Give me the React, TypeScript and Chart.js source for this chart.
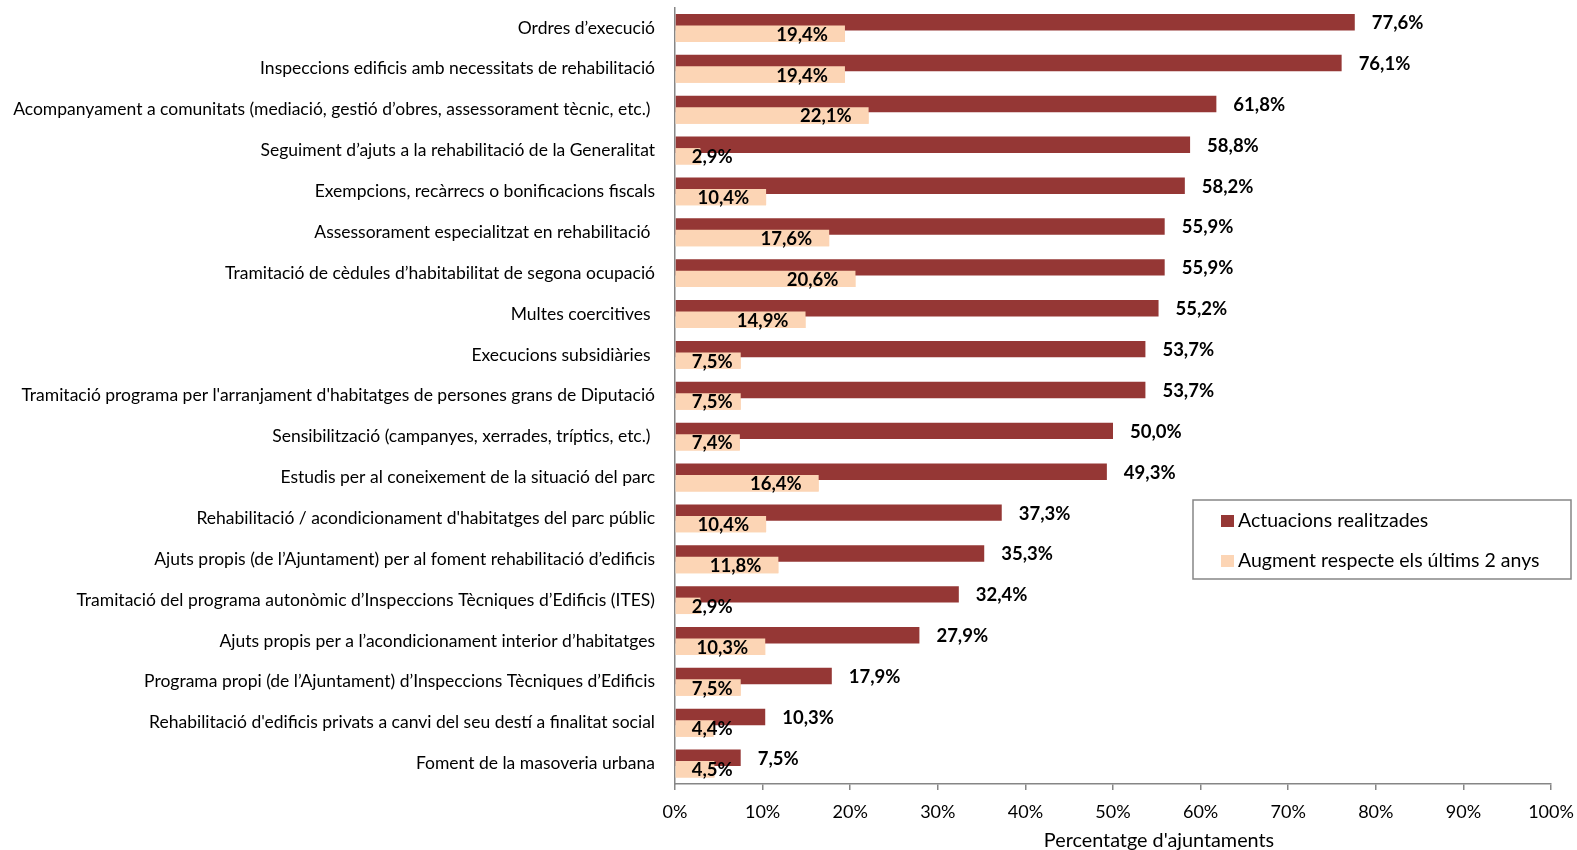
import React, { useEffect, useRef } from "react";
import { Chart, registerables } from "chart.js";

Chart.register(...registerables);

const categories = [
  "Ordres d’execució",
  "Inspeccions edificis amb necessitats de rehabilitació",
  "Acompanyament a comunitats (mediació, gestió d’obres, assessorament tècnic, etc.) ",
  "Seguiment d’ajuts a la rehabilitació de la Generalitat",
  "Exempcions, recàrrecs o bonificacions fiscals",
  "Assessorament especialitzat en rehabilitació ",
  "Tramitació de cèdules d’habitabilitat de segona ocupació",
  "Multes coercitives ",
  "Execucions subsidiàries ",
  "Tramitació programa per l'arranjament d'habitatges de persones grans de Diputació",
  "Sensibilització (campanyes, xerrades, tríptics, etc.) ",
  "Estudis per al coneixement de la situació del parc",
  "Rehabilitació / acondicionament d'habitatges del parc públic",
  "Ajuts propis (de l’Ajuntament) per al foment rehabilitació d’edificis",
  "Tramitació del programa autonòmic d’Inspeccions Tècniques d’Edificis (ITES)",
  "Ajuts propis per a l’acondicionament interior d’habitatges",
  "Programa propi (de l’Ajuntament) d’Inspeccions Tècniques d’Edificis",
  "Rehabilitació d'edificis privats a canvi del seu destí a finalitat social",
  "Foment de la masoveria urbana",
];

const actuacions = [77.6, 76.1, 61.8, 58.8, 58.2, 55.9, 55.9, 55.2, 53.7, 53.7, 50.0, 49.3, 37.3, 35.3, 32.4, 27.9, 17.9, 10.3, 7.5];
const augment = [19.4, 19.4, 22.1, 2.9, 10.4, 17.6, 20.6, 14.9, 7.5, 7.5, 7.4, 16.4, 10.4, 11.8, 2.9, 10.3, 7.5, 4.4, 4.5];

const seriesNames = ["Actuacions realitzades", "Augment respecte els últims 2 anys"];
const axisTitle = "Percentatge d'ajuntaments";

const DARK = "#953735";
const LIGHT = "#FCD5B5";
const AXIS = "#868686";
const FONT = "Lato, 'Open Sans', sans-serif";

const fmt = (v: number) => v.toFixed(1).replace(".", ",") + "%";

export default function App() {
  const ref = useRef<HTMLCanvasElement>(null);

  useEffect(() => {
    document.body.style.margin = "0";
    const canvas = ref.current;
    if (!canvas) return;

    const overlay = {
      id: "overlay",
      afterDatasetsDraw(chart: any) {
        const ctx = chart.ctx;
        const m1 = chart.getDatasetMeta(1);
        ctx.save();
        m1.controller.draw();
        ctx.restore();

        ctx.save();
        ctx.fillStyle = "#000";
        ctx.font = `bold 18.5px ${FONT}`;
        ctx.textBaseline = "middle";
        const m0 = chart.getDatasetMeta(0);
        m0.data.forEach((el: any, i: number) => {
          ctx.textAlign = "left";
          ctx.fillText(fmt(actuacions[i]), el.x + 17, el.y + 1);
        });
        m1.data.forEach((el: any, i: number) => {
          const t = fmt(augment[i]);
          const w = ctx.measureText(t).width;
          const right = Math.max(el.x - 17, el.base + 16 + w);
          ctx.textAlign = "right";
          ctx.fillText(t, right, el.y + 1);
        });
        ctx.restore();
      },
      afterDraw(chart: any) {
        const ctx = chart.ctx;
        ctx.save();
        ctx.strokeStyle = AXIS;
        ctx.lineWidth = 1.5;
        ctx.fillStyle = "#fff";
        ctx.fillRect(1193, 500, 378, 79);
        ctx.strokeRect(1193, 500, 378, 79);
        ctx.font = `19.5px ${FONT}`;
        ctx.textBaseline = "middle";
        ctx.textAlign = "left";
        const colors = [DARK, LIGHT];
        seriesNames.forEach((n, i) => {
          const cy = 521 + i * 40;
          ctx.fillStyle = colors[i];
          ctx.fillRect(1221, cy - 6, 13, 12);
          ctx.fillStyle = "#000";
          ctx.fillText(n, 1238, cy);
        });
        ctx.font = `19.8px ${FONT}`;
        ctx.textAlign = "center";
        ctx.textBaseline = "alphabetic";
        ctx.fillText(axisTitle, 1159, 847);
        ctx.restore();
      },
    };

    const chart = new Chart(canvas, {
      type: "bar",
      data: {
        labels: categories,
        datasets: [
          {
            label: seriesNames[0],
            data: actuacions,
            backgroundColor: DARK,
            borderWidth: 0,
            categoryPercentage: 0.5625,
            barPercentage: 1.43,
          },
          {
            label: seriesNames[1],
            data: augment,
            backgroundColor: LIGHT,
            borderWidth: 0,
            categoryPercentage: 0.5625,
            barPercentage: 1.43,
          },
        ],
      },
      options: {
        indexAxis: "y",
        animation: false,
        responsive: true,
        maintainAspectRatio: false,
        layout: { padding: { top: 7.5, right: 26, left: 0, bottom: 0 } },
        plugins: {
          legend: { display: false },
          tooltip: { enabled: false },
        },
        scales: {
          x: {
            type: "linear",
            min: 0,
            max: 100,
            ticks: {
              stepSize: 10,
              callback: (v: any) => v + "%",
              color: "#000",
              font: { family: FONT, size: 18 },
              padding: 11,
              maxRotation: 0,
            },
            grid: {
              drawOnChartArea: false,
              drawTicks: true,
              tickLength: 6,
              color: AXIS,
              lineWidth: 1.5,
            },
            border: { color: AXIS, width: 1.5 },
            afterFit: (scale: any) => {
              scale.height = 66;
              scale.paddingLeft = 0;
              scale.paddingRight = 0;
            },
          },
          y: {
            type: "category",
            ticks: {
              color: "#000",
              font: { family: FONT, size: 17.5 },
              padding: 20,
              autoSkip: false,
            },
            grid: { display: false, drawTicks: false },
            border: { display: true, color: AXIS, width: 1.5 },
            afterFit: (scale: any) => {
              scale.width = 675;
              scale.paddingTop = 0;
              scale.paddingBottom = 0;
            },
          },
        },
      },
      plugins: [overlay],
    });

    return () => chart.destroy();
  }, []);

  return (
    <div style={{ width: "1577px", height: "850px", position: "relative" }}>
      <canvas ref={ref} />
    </div>
  );
}
